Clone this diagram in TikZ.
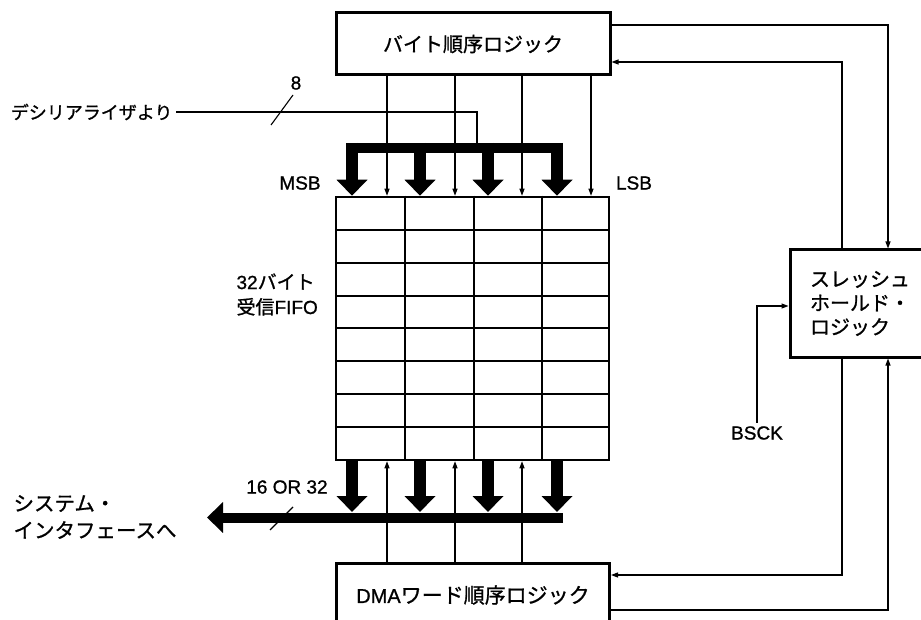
\documentclass[tikz,border=0pt]{standalone}
\usepackage{fontspec}
\setmainfont{Liberation Sans}[UprightFeatures={FakeBold=1}]
\newfontfamily\jp{Noto Sans CJK JP}[UprightFeatures={FakeBold=1}]
\usetikzlibrary{arrows.meta}

\begin{document}
\begin{tikzpicture}[x=1pt, y=-1pt, >={Triangle[length=7pt,width=5pt]},
    blk/.style={draw, line width=3pt, inner sep=0pt},
    sig/.style={line width=1.1pt, ->},
    bus/.style={line width=12pt, -{Triangle[length=16pt,width=30pt]}},
    lbl/.style={font=\fontsize{19}{25}\selectfont},
    jlbl/.style={font=\jp\fontsize{20}{24}\selectfont}]
    % 外枠
    \path[use as bounding box] (0,0) rectangle (921,620);
    \clip (0,0) rectangle (921,620);

    % ブロック
    \node[blk, jlbl, minimum width=274pt, minimum height=62pt] (byteseq) at (473,44) {バイト順序ロジック};
    \node[blk, font=\fontsize{20}{24}\selectfont, minimum width=273pt, minimum height=64pt] (dmaseq) at (473,595) {DMA{\jp\fontsize{21}{24}\selectfont ワード順序ロジック}};
    \node[blk, jlbl, align=left, minimum width=140pt, minimum height=107pt] (thresh) at (860,303.5) {スレッシュ\\ホールド・\\ロジック};

    % 32バイト FIFO
    \node[draw, line width=2.5pt, inner sep=0pt, minimum width=273pt, minimum height=263pt] (fifo) at (472.5,328.5) {};
    \foreach \c in {405,474,542}
        \draw[line width=2pt] (\c,0 |- fifo.north) -- (\c,0 |- fifo.south);
    \foreach \r in {1,...,7} {
        \pgfmathsetmacro\ry{197+32.875*\r}
        \draw[line width=2pt] (fifo.west |- 0,\ry) -- (fifo.east |- 0,\ry);
    }

    % ラベル
    \node[lbl] (msb) at (300,183) {MSB};
    \node[lbl] (lsb) at (634,183) {LSB};
    \node[lbl, anchor=west, align=left] (fifolbl) at (233,294.5) {32{\jp バイト}\\{\jp 受信}FIFO};
    \node[jlbl, font=\jp\fontsize{18}{22}\selectfont, anchor=east] (deser) at (176,112) {デシリアライザより};
    \node[lbl] (w8) at (296,83) {8};
    \node[lbl] (w16) at (287,487) {16 OR 32};
    \node[jlbl, font=\jp\fontsize{20.5}{27}\selectfont, anchor=west, align=left] (sysif) at (10,517) {システム・\\インタフェースへ};
    \node[lbl] (bsck) at (757,433) {BSCK};

    % 制御線
    \foreach \x in {387,455,522,591}
        \draw[sig] (\x,0 |- byteseq.south) -- (\x,0 |- fifo.north);
    \foreach \x in {387,455,522}
        \draw[sig] (\x,0 |- dmaseq.north) -- (\x,0 |- fifo.south);

    % デシリアライザからの入力
    \draw[line width=1.1pt] (deser.east) -| (477,148);
    \draw[line width=1.1pt] (271,125) -- (293,95);

    % 入力バス
    \draw[line width=10pt] (346,148) -- (563,148);
    \foreach \x in {352,420,488,557}
        \draw[bus] (\x,143) -- (\x,0 |- fifo.north);

    % 出力バス
    \coordinate (sysout) at (207,517.5);
    \foreach \x in {352,420,488,557}
        \draw[bus] (\x,0 |- fifo.south) -- (\x,512);
    \draw[line width=10pt, -{Triangle[length=16pt,width=30pt]}] (563,517.5) -- (sysout);
    \draw[line width=1.1pt] (270,530) -- (293,507);

    % スレッシュホールド・ロジックとの接続
    \coordinate (ra) at (888,0);
    \coordinate (rb) at (842,0);
    \draw[sig] (byteseq.east |- 0,25) -| (ra |- thresh.north);
    \draw[sig] (rb |- thresh.north) |- (byteseq.east |- 0,62);
    \draw[sig] (rb |- thresh.south) |- (dmaseq.east |- 0,575);
    \draw[sig] (dmaseq.east |- 0,610) -| (ra |- thresh.south);
    \draw[sig] (bsck.north) |- (thresh.west |- 0,306);
\end{tikzpicture}
\end{document}
